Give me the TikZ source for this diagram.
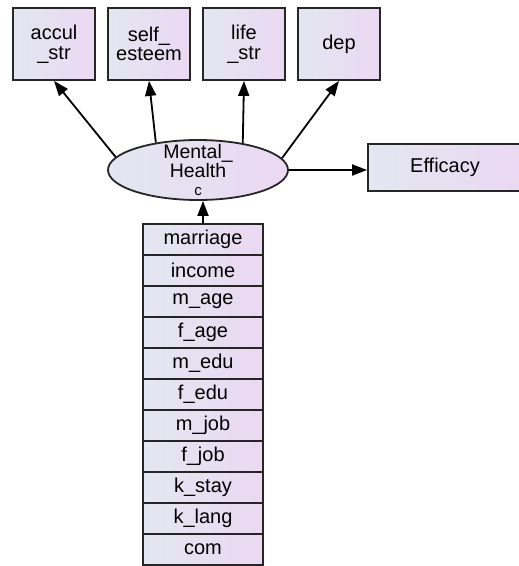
\documentclass[tikz,border=0pt]{standalone}
\usepackage{fontspec}
\setmainfont{Liberation Sans}
\usetikzlibrary{arrows.meta, positioning, shapes.geometric}
\definecolor{boxleft}{HTML}{E3E7F1}
\definecolor{boxright}{HTML}{EBD8F2}
\definecolor{boxline}{HTML}{262626}

\begin{document}
\begin{tikzpicture}[
        x=1pt, y=-1pt,
        >={Triangle[length=15pt, width=11pt]},
        obsbox/.style={rectangle, draw=boxline, line width=1.8pt, left color=boxleft,
                right color=boxright, minimum width=82pt, minimum height=72pt, align=center,
                inner sep=1pt, font=\fontsize{20}{19.5}\selectfont},
        outbox/.style={obsbox, minimum width=154pt, minimum height=47pt},
        cellbox/.style={obsbox, minimum width=120pt, minimum height=31pt, outer sep=0pt},
        latent/.style={ellipse, draw=boxline, line width=1.8pt, left color=boxleft,
                right color=boxright, minimum width=180pt, minimum height=60pt, inner sep=0pt},
        arrow/.style={->, line width=1.8pt, black}, ]

        \useasboundingbox (0,0) rectangle (519,566);

        % === INDICATORS (Top Row) ===
        \node[obsbox] (accul) at (54,44) {accul\\\_str};
        \node[obsbox] (selfest) at (149,44) {self\_\\esteem};
        \node[obsbox] (lifestr) at (244,44) {life\\\_str};
        \node[obsbox] (dep) at (339,44) {dep};

        % === LATENT FACTOR ===
        \node[latent, label={[name=mhtext, align=center, font=\fontsize{19.5}{18}\selectfont]center:Mental\_\\Health\\{\fontsize{15}{15}\selectfont c}}] (mh) at (198,170) {};

        % === OUTCOME ===
        \node[outbox] (eff) at (445,167.5) {Efficacy};

        % === COVARIATES (Stack) ===
        \node[cellbox] (marriage) at (203,239.5) {marriage};
        \foreach \name/\txt [remember=\name as \prev (initially marriage)] in
                {income/income, mage/m\_age, fage/f\_age, medu/m\_edu, fedu/f\_edu,
                 mjob/m\_job, fjob/f\_job, kstay/k\_stay, klang/k\_lang, com/com} {
                \node[cellbox, below=0pt of \prev] (\name) {\txt};
            }

        % Connections
        \draw[arrow] (mh.171.8) -- (accul.south);
        \draw[arrow] (mh.147.9) -- (selfest.south);
        \draw[arrow] (mh.31) -- (lifestr.south);
        \draw[arrow] (mh.8) -- (dep.south);
        \draw[arrow] (mh.east) -- (mh.east -| eff.west);
        \draw[arrow] (marriage.north) -- (marriage.north |- mh.south);
    \end{tikzpicture}
\end{document}
